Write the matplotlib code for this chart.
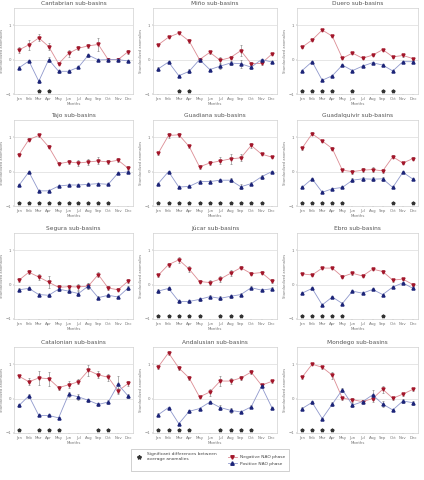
import numpy as np
import matplotlib
matplotlib.use("Agg")
import matplotlib.pyplot as plt
from matplotlib.lines import Line2D

months = ['Jan', 'Feb', 'Mar', 'Apr', 'May', 'Jun', 'Jul', 'Aug', 'Sep', 'Oct', 'Nov', 'Dec']

titles = ['Cantabrian sub-basins', 'Miño sub-basins', 'Duero sub-basins',
          'Tajo sub-basins', 'Guadiana sub-basins', 'Guadalquivir sub-basins',
          'Segura sub-basins', 'Júcar sub-basins', 'Ebro sub-basins',
          'Catalonian sub-basins', 'Andalusian sub-basins', 'Mondego sub-basins']

# negative NAO phase (red) / positive NAO phase (blue) anomalies
cant_neg = [0.28, 0.43, 0.63, 0.38, -0.12, 0.18, 0.33, 0.40, 0.44, 0.00, 0.00, 0.23]
cant_pos = [-0.24, -0.04, -0.63, 0.00, -0.34, -0.34, -0.22, 0.13, -0.01, 0.00, 0.00, -0.04]
mino_neg = [0.43, 0.65, 0.77, 0.54, 0.00, 0.21, -0.02, 0.06, 0.26, -0.12, -0.11, 0.16]
mino_pos = [-0.27, -0.07, -0.47, -0.34, 0.00, -0.29, -0.19, -0.10, -0.12, -0.22, 0.00, -0.07]
duero_neg = [0.36, 0.57, 0.86, 0.68, 0.04, 0.19, 0.04, 0.13, 0.29, 0.08, 0.12, 0.03]
duero_pos = [-0.32, -0.06, -0.60, -0.47, -0.16, -0.32, -0.19, -0.09, -0.16, -0.33, -0.06, -0.06]
tajo_neg = [0.49, 0.93, 1.05, 0.72, 0.23, 0.28, 0.25, 0.28, 0.31, 0.28, 0.33, 0.10]
tajo_pos = [-0.40, -0.01, -0.56, -0.56, -0.42, -0.39, -0.39, -0.37, -0.35, -0.37, -0.04, -0.01]
guadiana_neg = [0.53, 1.05, 1.07, 0.73, 0.14, 0.25, 0.31, 0.37, 0.40, 0.76, 0.51, 0.42]
guadiana_pos = [-0.35, 0.00, -0.45, -0.43, -0.29, -0.29, -0.25, -0.25, -0.44, -0.35, -0.15, 0.00]
guadalq_neg = [0.68, 1.10, 0.89, 0.67, 0.04, 0.00, 0.04, 0.06, 0.02, 0.43, 0.25, 0.38]
guadalq_pos = [-0.46, -0.21, -0.60, -0.50, -0.46, -0.25, -0.21, -0.22, -0.21, -0.46, -0.02, -0.22]
segura_neg = [0.13, 0.36, 0.22, 0.07, -0.08, -0.06, -0.07, -0.04, 0.29, -0.10, -0.15, 0.10]
segura_pos = [-0.15, -0.11, -0.29, -0.31, -0.13, -0.19, -0.26, -0.04, -0.38, -0.31, -0.36, -0.10]
jucar_neg = [0.27, 0.58, 0.72, 0.45, 0.09, 0.06, 0.16, 0.33, 0.49, 0.32, 0.35, 0.10]
jucar_pos = [-0.19, -0.11, -0.49, -0.49, -0.43, -0.35, -0.40, -0.34, -0.29, -0.09, -0.16, -0.12]
ebro_neg = [0.31, 0.28, 0.48, 0.48, 0.23, 0.33, 0.25, 0.45, 0.38, 0.13, 0.16, 0.00]
ebro_pos = [-0.25, -0.11, -0.59, -0.36, -0.55, -0.19, -0.25, -0.14, -0.29, -0.07, 0.05, -0.11]
catal_neg = [0.65, 0.49, 0.60, 0.58, 0.32, 0.40, 0.49, 0.82, 0.69, 0.62, 0.22, 0.44]
catal_pos = [-0.20, 0.08, -0.49, -0.49, -0.56, 0.12, 0.05, -0.05, -0.17, -0.10, 0.41, 0.08]
andal_neg = [0.92, 1.33, 0.89, 0.60, 0.05, 0.19, 0.51, 0.51, 0.60, 0.77, 0.39, 0.50]
andal_pos = [-0.47, -0.26, -0.73, -0.37, -0.29, -0.10, -0.26, -0.34, -0.39, -0.24, 0.36, -0.26]
mond_neg = [0.62, 1.00, 0.91, 0.68, 0.01, -0.03, -0.09, 0.00, 0.27, 0.01, 0.13, 0.27]
mond_pos = [-0.29, -0.11, -0.58, -0.16, 0.26, -0.19, -0.09, 0.11, -0.16, -0.33, -0.07, -0.12]

# error bars (half-length)
cant_neg_err = [0.10, 0.15, 0.10, 0.10, 0.05, 0.10, 0.06, 0.05, 0.20, 0.05, 0.05, 0.06]
cant_pos_err = [0.04, 0.03, 0.04, 0.08, 0.04, 0.04, 0.03, 0.04, 0.04, 0.05, 0.05, 0.03]
mino_neg_err = [0.03, 0.03, 0.04, 0.05, 0.04, 0.05, 0.10, 0.05, 0.15, 0.05, 0.05, 0.04]
mino_pos_err = [0.05, 0.03, 0.03, 0.06, 0.04, 0.03, 0.08, 0.06, 0.12, 0.05, 0.03, 0.04]
duero_neg_err = [0.03] * 12
duero_pos_err = [0.03] * 12
tajo_neg_err = [0.04, 0.04, 0.03, 0.04, 0.05, 0.06, 0.08, 0.08, 0.10, 0.07, 0.06, 0.05]
tajo_pos_err = [0.03] * 12
guadiana_neg_err = [0.04, 0.06, 0.05, 0.04, 0.05, 0.07, 0.10, 0.14, 0.10, 0.08, 0.04, 0.03]
guadiana_pos_err = [0.03, 0.03, 0.03, 0.03, 0.04, 0.04, 0.04, 0.05, 0.08, 0.04, 0.06, 0.03]
guadalq_neg_err = [0.04, 0.04, 0.04, 0.05, 0.05, 0.06, 0.06, 0.06, 0.06, 0.04, 0.04, 0.04]
guadalq_pos_err = [0.03, 0.03, 0.03, 0.03, 0.03, 0.06, 0.06, 0.06, 0.06, 0.03, 0.03, 0.03]
segura_neg_err = [0.06, 0.05, 0.10, 0.18, 0.06, 0.06, 0.08, 0.08, 0.08, 0.06, 0.04, 0.06]
segura_pos_err = [0.04, 0.04, 0.04, 0.04, 0.05, 0.05, 0.06, 0.08, 0.05, 0.04, 0.04, 0.06]
jucar_neg_err = [0.04, 0.06, 0.08, 0.08, 0.04, 0.06, 0.08, 0.08, 0.05, 0.04, 0.04, 0.05]
jucar_pos_err = [0.05, 0.04, 0.04, 0.04, 0.04, 0.04, 0.06, 0.05, 0.04, 0.05, 0.04, 0.05]
ebro_neg_err = [0.04] * 12
ebro_pos_err = [0.03] * 12
catal_neg_err = [0.05, 0.10, 0.20, 0.20, 0.06, 0.10, 0.08, 0.15, 0.10, 0.10, 0.10, 0.08]
catal_pos_err = [0.05, 0.05, 0.03, 0.03, 0.03, 0.06, 0.08, 0.05, 0.05, 0.06, 0.25, 0.06]
andal_neg_err = [0.05, 0.06, 0.05, 0.05, 0.04, 0.10, 0.15, 0.10, 0.06, 0.06, 0.04, 0.05]
andal_pos_err = [0.04, 0.03, 0.03, 0.04, 0.03, 0.04, 0.06, 0.07, 0.04, 0.04, 0.04, 0.03]
mond_neg_err = [0.05, 0.03, 0.04, 0.10, 0.04, 0.06, 0.04, 0.10, 0.10, 0.04, 0.04, 0.04]
mond_pos_err = [0.04, 0.04, 0.03, 0.06, 0.06, 0.05, 0.04, 0.15, 0.08, 0.04, 0.06, 0.06]

# months (1-12) with significant differences
cant_sig = [3, 4]
mino_sig = [3, 4]
duero_sig = [1, 2, 3, 4, 6, 9, 10]
tajo_sig = [1, 2, 3, 4, 5, 6, 7, 8, 9, 10]
guadiana_sig = [1, 2, 3, 4, 5, 6, 7, 8, 9, 10, 11]
guadalq_sig = [1, 2, 3, 4, 5, 10, 12]
segura_sig = []
jucar_sig = [1, 2, 3, 4, 5, 7, 8, 9]
ebro_sig = [1, 2, 3, 4, 5, 9]
catal_sig = [1, 3, 4, 5, 9, 10]
andal_sig = [1, 2, 3, 4, 7, 8, 9, 10]
mond_sig = [1, 2, 3, 4]

neg_all = [cant_neg, mino_neg, duero_neg, tajo_neg, guadiana_neg, guadalq_neg,
           segura_neg, jucar_neg, ebro_neg, catal_neg, andal_neg, mond_neg]
pos_all = [cant_pos, mino_pos, duero_pos, tajo_pos, guadiana_pos, guadalq_pos,
           segura_pos, jucar_pos, ebro_pos, catal_pos, andal_pos, mond_pos]
neg_err_all = [cant_neg_err, mino_neg_err, duero_neg_err, tajo_neg_err, guadiana_neg_err, guadalq_neg_err,
               segura_neg_err, jucar_neg_err, ebro_neg_err, catal_neg_err, andal_neg_err, mond_neg_err]
pos_err_all = [cant_pos_err, mino_pos_err, duero_pos_err, tajo_pos_err, guadiana_pos_err, guadalq_pos_err,
               segura_pos_err, jucar_pos_err, ebro_pos_err, catal_pos_err, andal_pos_err, mond_pos_err]
sig_all = [cant_sig, mino_sig, duero_sig, tajo_sig, guadiana_sig, guadalq_sig,
           segura_sig, jucar_sig, ebro_sig, catal_sig, andal_sig, mond_sig]

red_line = '#dc8c94'
red_mk = '#a3162a'
blue_line = '#8f98cc'
blue_mk = '#1c2478'
frame = '#d0d0d0'

W, H = 424, 480
fig = plt.figure(figsize=(W / 100, H / 100), dpi=100)
fig.patch.set_facecolor('white')

col_left = [14, 153, 297]
col_width = [119, 124, 121]
row_top = [8, 120, 233, 347]
row_h = 86

x = np.arange(1, 13)
for i in range(12):
    r, c = divmod(i, 3)
    ax = fig.add_axes([col_left[c] / W, 1 - (row_top[r] + row_h) / H, col_width[c] / W, row_h / H])
    ax.axhline(0, color='#e2e2e2', lw=0.6, zorder=0)
    ax.axhline(1, color='#e2e2e2', lw=0.6, zorder=0)
    ax.errorbar(x, neg_all[i], yerr=neg_err_all[i], color=red_line, lw=0.6,
                marker='v', ms=2.2, mfc=red_mk, mec=red_mk, ecolor='#777777',
                elinewidth=0.4, capsize=0.8, capthick=0.4)
    ax.errorbar(x, pos_all[i], yerr=pos_err_all[i], color=blue_line, lw=0.6,
                marker='^', ms=2.2, mfc=blue_mk, mec=blue_mk, ecolor='#777777',
                elinewidth=0.4, capsize=0.8, capthick=0.4)
    if sig_all[i]:
        ax.plot(sig_all[i], [-0.9] * len(sig_all[i]), ls='none', marker='*',
                ms=2.6, color='#333333')
    ax.set_xlim(0.5, 12.5)
    ax.set_ylim(-1, 1.5)
    ax.set_xticks(x)
    ax.set_xticklabels(months)
    ax.set_yticks([-1, 0, 1])
    ax.tick_params(labelsize=2.8, length=1, width=0.3, pad=1, colors='#777777')
    for s in ax.spines.values():
        s.set_color(frame)
        s.set_linewidth(0.5)
    ax.set_title(titles[i], fontsize=4.2, color='#555555', pad=2)
    ax.set_xlabel('Months', fontsize=2.8, color='#777777', labelpad=1)
    ax.set_ylabel('Standardized anomalies', fontsize=2.6, color='#777777', labelpad=1)

handles = [Line2D([], [], ls='none', marker='*', ms=3, color='#333333'),
           Line2D([], [], ls='none', marker='none'),
           Line2D([], [], color=red_line, lw=0.6, marker='v', ms=2.5, mfc=red_mk, mec=red_mk),
           Line2D([], [], color=blue_line, lw=0.6, marker='^', ms=2.5, mfc=blue_mk, mec=blue_mk)]
labels = ['Significant differences between\naverage anomalies', '',
          'Negative NAO phase', 'Positive NAO phase']
leg = fig.legend(handles, labels, ncol=2, loc='center', bbox_to_anchor=(210 / W, 1 - 460 / H),
                 fontsize=3.2, frameon=True, fancybox=False, edgecolor='#999999',
                 handlelength=2, columnspacing=2.5, borderpad=0.8, labelspacing=0.6)
leg.get_frame().set_linewidth(0.4)
for t in leg.get_texts():
    t.set_color('#444444')

fig.savefig('out.png', dpi=100)
